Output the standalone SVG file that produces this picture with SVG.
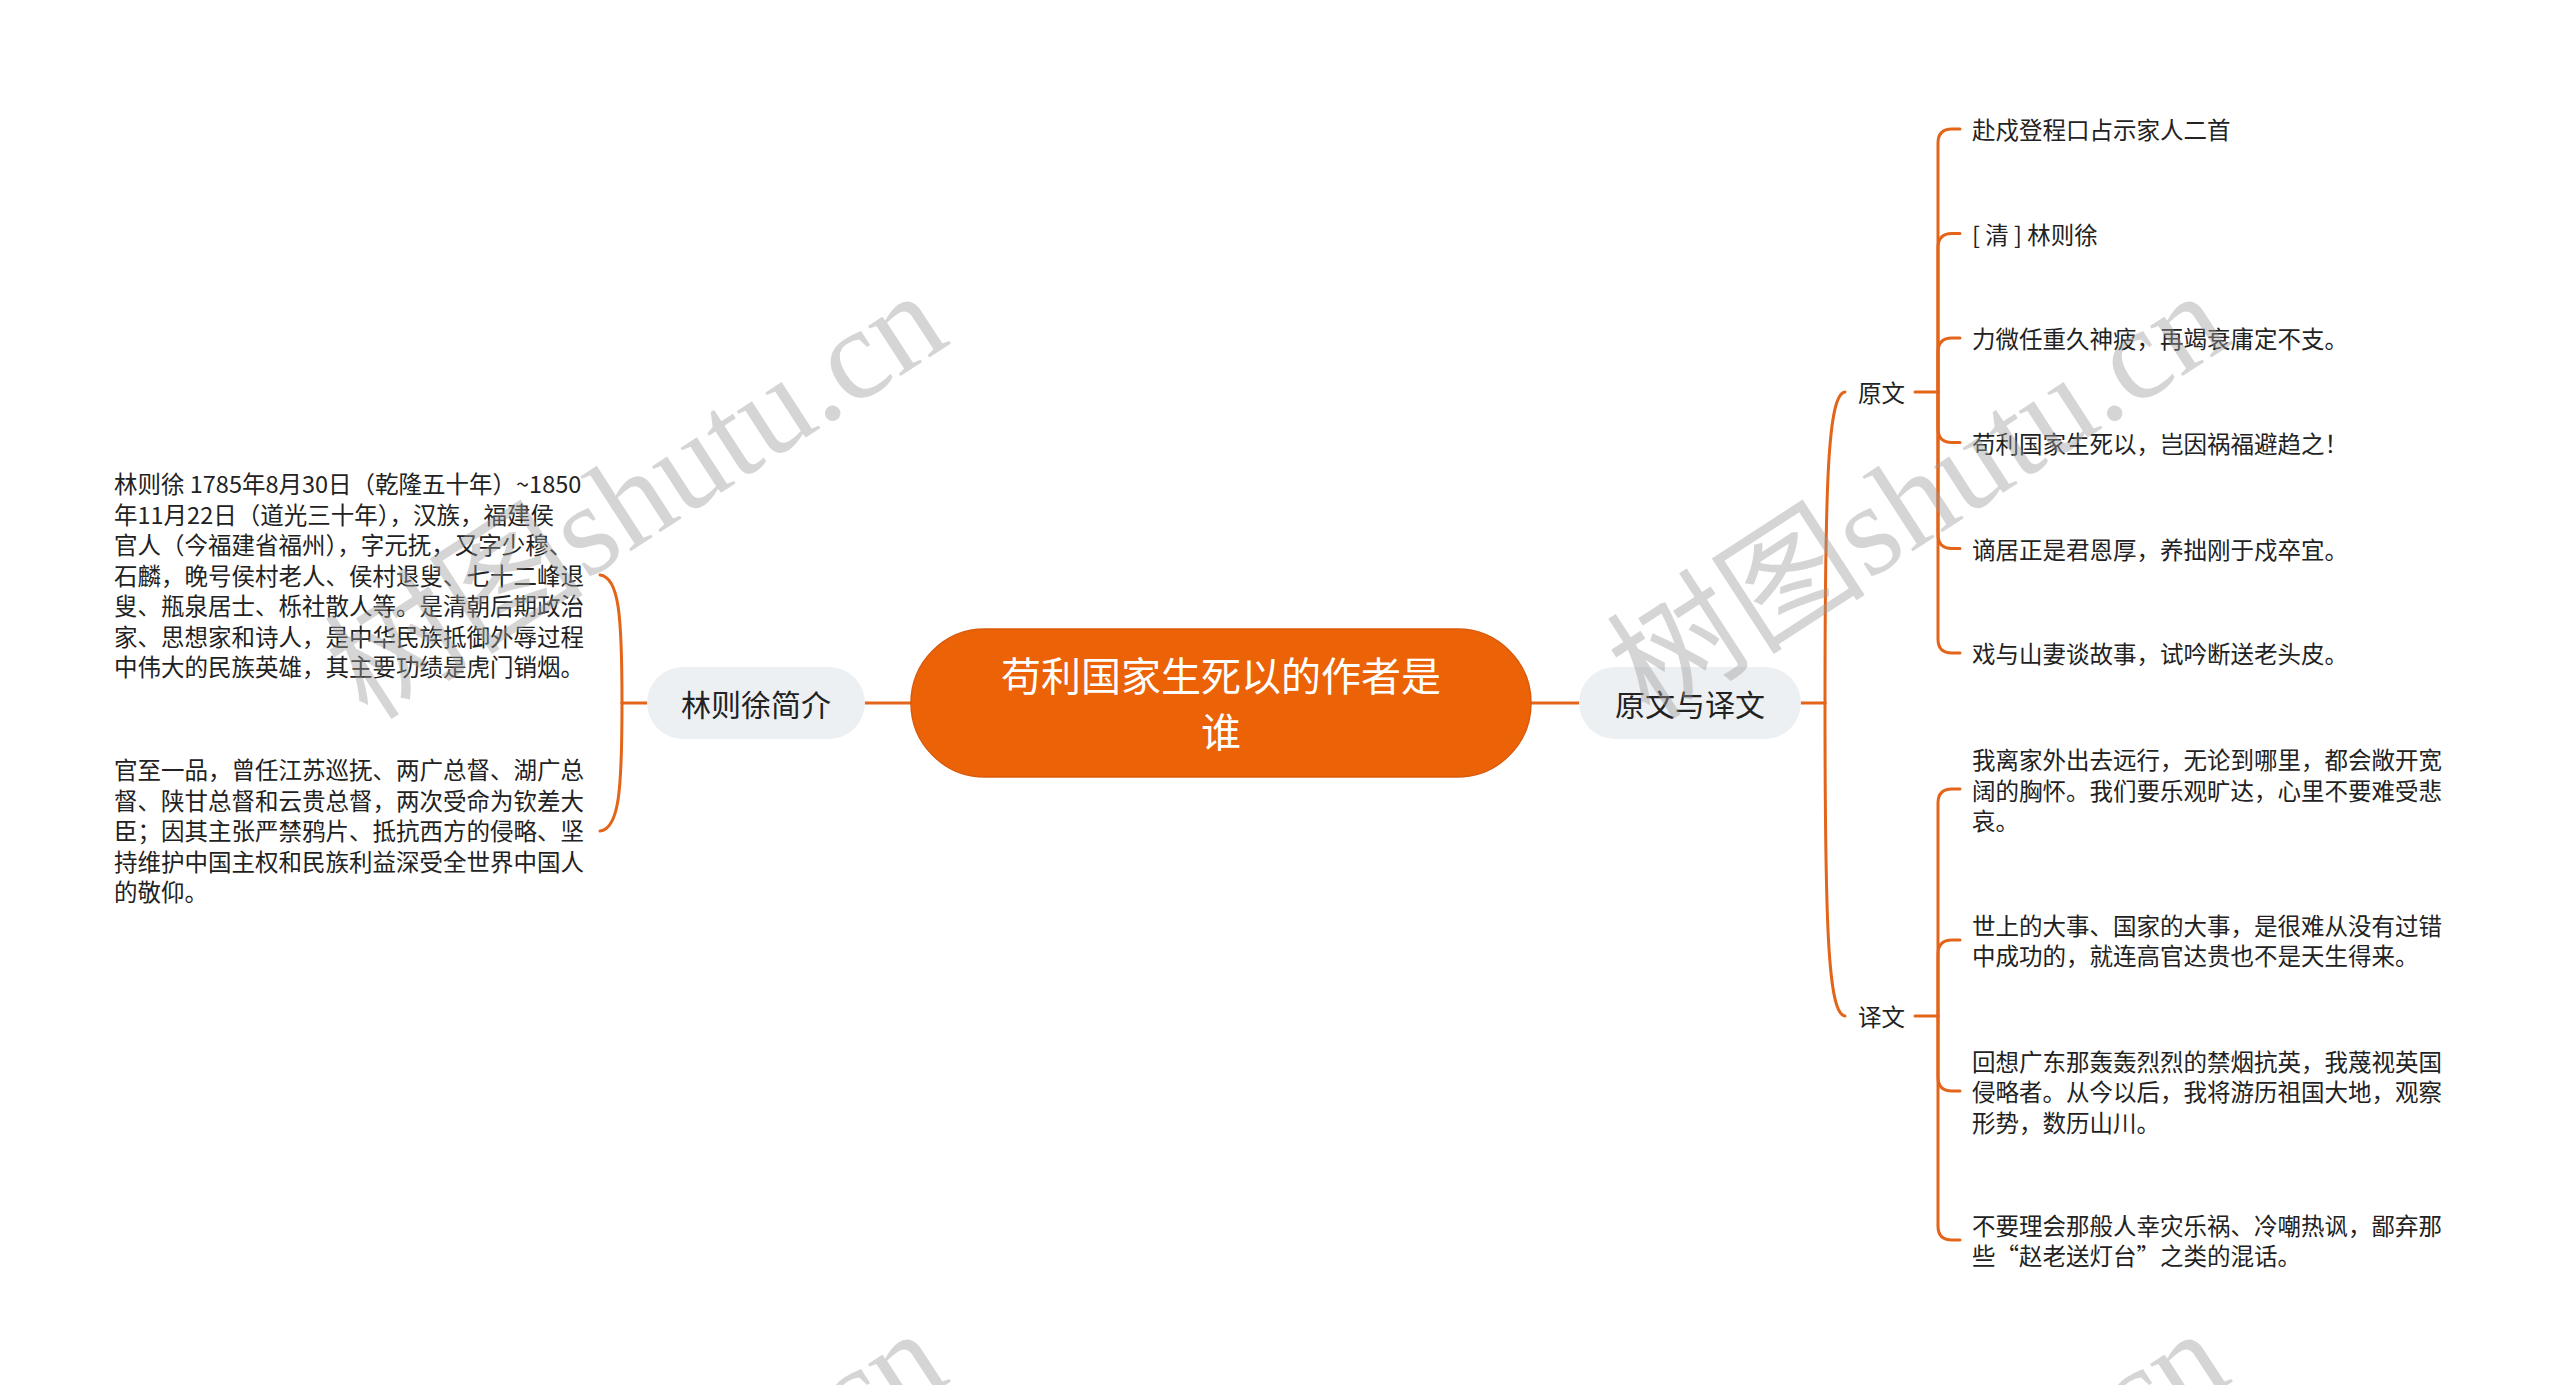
<svg xmlns="http://www.w3.org/2000/svg" width="2560" height="1385" viewBox="0 0 2560 1385">
<style>
.bg{fill:#ffffff}
.conn{fill:none;stroke:#e2651a;stroke-width:3;stroke-linecap:round}
.root{fill:#eb6207;stroke:#d95a0a;stroke-width:1.5}
.rootText{font-family:"Noto Sans CJK SC","Noto Sans",sans-serif;font-size:40px;fill:#ffffff;text-anchor:middle;dominant-baseline:central}
.branch{fill:#edf0f3}
.branchText{font-family:"Noto Sans CJK SC","Noto Sans",sans-serif;font-size:30px;fill:#222222;text-anchor:middle;dominant-baseline:central}
.t{font-family:"Noto Sans CJK SC","Noto Sans",sans-serif;font-size:23.5px;fill:#222222;dominant-baseline:central}
.wm{font-family:"Liberation Serif","Noto Sans CJK SC",serif;font-size:130px;fill:#9a9a9a;fill-opacity:0.42}
</style>
<rect class="bg" x="0" y="0" width="2560" height="1385"/>

<g id="connectors">
  <path class="conn" d="M911,703 L865,703"/>
  <path class="conn" d="M1531,703 L1579,703"/>
  <path class="conn" d="M647,703 L622,703"/>
  <path class="conn" d="M622,703 C622,615 619,577 600,575"/>
  <path class="conn" d="M622,703 C622,791 619,829 600,831"/>
  <path class="conn" d="M1801,703 L1825,703"/>
  <path class="conn" d="M1825,703 C1825,480 1828,394 1845,392"/>
  <path class="conn" d="M1825,703 C1825,926 1828,1014 1845,1016"/>
  <path class="conn" d="M1915,392 L1938,392"/>
  <path class="conn" d="M1938,392 L1938,143 Q1938,129 1952,129 L1960,129"/>
  <path class="conn" d="M1938,392 L1938,247.5 Q1938,233.5 1952,233.5 L1960,233.5"/>
  <path class="conn" d="M1938,392 L1938,352 Q1938,338 1952,338 L1960,338"/>
  <path class="conn" d="M1938,392 L1938,428.5 Q1938,442.5 1952,442.5 L1960,442.5"/>
  <path class="conn" d="M1938,392 L1938,534.5 Q1938,548.5 1952,548.5 L1960,548.5"/>
  <path class="conn" d="M1938,392 L1938,639 Q1938,653 1952,653 L1960,653"/>
  <path class="conn" d="M1915,1016 L1938,1016"/>
  <path class="conn" d="M1938,1016 L1938,803 Q1938,789 1952,789 L1960,789"/>
  <path class="conn" d="M1938,1016 L1938,954 Q1938,940 1952,940 L1960,940"/>
  <path class="conn" d="M1938,1016 L1938,1077 Q1938,1091 1952,1091 L1960,1091"/>
  <path class="conn" d="M1938,1016 L1938,1226 Q1938,1240 1952,1240 L1960,1240"/>
</g>

<g id="root">
  <rect class="root" x="911" y="629" width="620" height="148" rx="74" ry="74"/>
  <text class="rootText" x="1221" y="674">苟利国家生死以的作者是</text>
  <text class="rootText" x="1221" y="730">谁</text>
</g>

<g id="node-intro">
  <rect class="branch" x="647" y="667" width="218" height="72" rx="36" ry="36"/>
  <text class="branchText" x="756" y="703">林则徐简介</text>
</g>

<g id="node-text">
  <rect class="branch" x="1579" y="667" width="222" height="72" rx="36" ry="36"/>
  <text class="branchText" x="1690" y="703">原文与译文</text>
</g>

<g id="intro-1">
  <text class="t" x="114" y="483">
    <tspan x="114" y="483">林则徐 1785年8月30日（乾隆五十年）~1850</tspan>
    <tspan x="114" dy="30.5">年11月22日（道光三十年），汉族，福建侯</tspan>
    <tspan x="114" dy="30.5">官人（今福建省福州），字元抚，又字少穆、</tspan>
    <tspan x="114" dy="30.5">石麟，晚号侯村老人、侯村退叟、七十二峰退</tspan>
    <tspan x="114" dy="30.5">叟、瓶泉居士、栎社散人等。是清朝后期政治</tspan>
    <tspan x="114" dy="30.5">家、思想家和诗人，是中华民族抵御外辱过程</tspan>
    <tspan x="114" dy="30.5">中伟大的民族英雄，其主要功绩是虎门销烟。</tspan>
  </text>
</g>

<g id="intro-2">
  <text class="t" x="114" y="769">
    <tspan x="114" y="769">官至一品，曾任江苏巡抚、两广总督、湖广总</tspan>
    <tspan x="114" dy="30.5">督、陕甘总督和云贵总督，两次受命为钦差大</tspan>
    <tspan x="114" dy="30.5">臣；因其主张严禁鸦片、抵抗西方的侵略、坚</tspan>
    <tspan x="114" dy="30.5">持维护中国主权和民族利益深受全世界中国人</tspan>
    <tspan x="114" dy="30.5">的敬仰。</tspan>
  </text>
</g>

<g id="node-original">
  <text class="t" x="1858" y="392">原文</text>
</g>
<g id="node-translation">
  <text class="t" x="1858" y="1016">译文</text>
</g>

<g id="orig-1"><text class="t" x="1972" y="129">赴戍登程口占示家人二首</text></g>
<g id="orig-2"><text class="t" x="1972" y="233.5">[ 清 ] 林则徐</text></g>
<g id="orig-3"><text class="t" x="1972" y="338">力微任重久神疲，再竭衰庸定不支。</text></g>
<g id="orig-4"><text class="t" x="1972" y="442.5">苟利国家生死以，岂因祸福避趋之！</text></g>
<g id="orig-5"><text class="t" x="1972" y="548.5">谪居正是君恩厚，养拙刚于戍卒宜。</text></g>
<g id="orig-6"><text class="t" x="1972" y="653">戏与山妻谈故事，试吟断送老头皮。</text></g>

<g id="trans-1">
  <text class="t" x="1972" y="759">
    <tspan x="1972" y="759">我离家外出去远行，无论到哪里，都会敞开宽</tspan>
    <tspan x="1972" dy="30.5">阔的胸怀。我们要乐观旷达，心里不要难受悲</tspan>
    <tspan x="1972" dy="30.5">哀。</tspan>
  </text>
</g>
<g id="trans-2">
  <text class="t" x="1972" y="924.5">
    <tspan x="1972" y="924.5">世上的大事、国家的大事，是很难从没有过错</tspan>
    <tspan x="1972" dy="30.5">中成功的，就连高官达贵也不是天生得来。</tspan>
  </text>
</g>
<g id="trans-3">
  <text class="t" x="1972" y="1060.5">
    <tspan x="1972" y="1060.5">回想广东那轰轰烈烈的禁烟抗英，我蔑视英国</tspan>
    <tspan x="1972" dy="30.5">侵略者。从今以后，我将游历祖国大地，观察</tspan>
    <tspan x="1972" dy="30.5">形势，数历山川。</tspan>
  </text>
</g>
<g id="trans-4">
  <text class="t" x="1972" y="1224.5">
    <tspan x="1972" y="1224.5">不要理会那般人幸灾乐祸、冷嘲热讽，鄙弃那</tspan>
    <tspan x="1972" dy="30.5">些“赵老送灯台”之类的混话。</tspan>
  </text>
</g>

<g id="watermarks">
  <text class="wm" transform="translate(368,722) rotate(-33)">树图shutu.cn</text>
  <text class="wm" transform="translate(1650,722) rotate(-33)">树图shutu.cn</text>
  <text class="wm" transform="translate(368,1760) rotate(-33)">树图shutu.cn</text>
  <text class="wm" transform="translate(1650,1760) rotate(-33)">树图shutu.cn</text>
</g>
</svg>
